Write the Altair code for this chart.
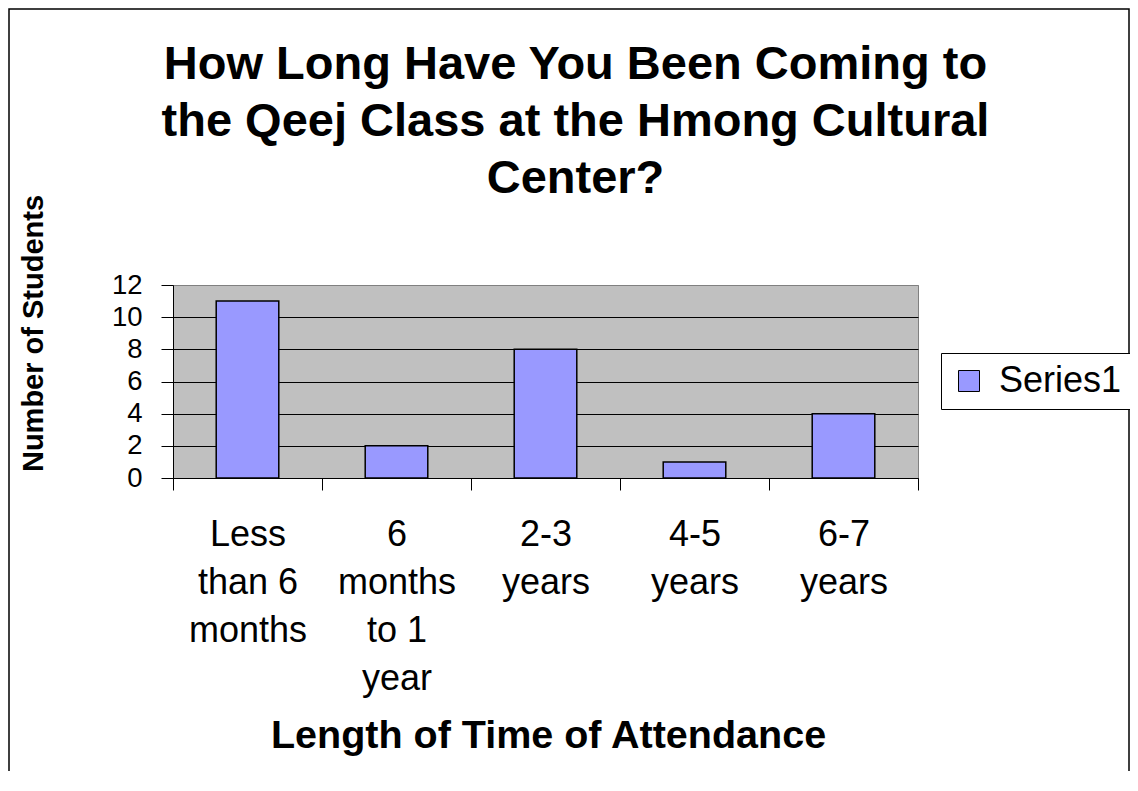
import altair as alt
import pandas as pd

categories = ["Less\nthan 6\nmonths", "6\nmonths\nto 1\nyear", "2-3\nyears", "4-5\nyears", "6-7\nyears"]
values = [11, 2, 8, 1, 4]
series = ["Series1"] * 5

FONT = "Liberation Sans, Arial, sans-serif"

df = pd.DataFrame({"cat": categories, "val": values, "series": series})

bars = alt.Chart(df).mark_bar(
    width=alt.RelativeBandSize(0.42), stroke="black", strokeWidth=1.5
).encode(
    x=alt.X("cat:N", sort=categories,
            scale=alt.Scale(paddingInner=0, paddingOuter=0),
            axis=alt.Axis(title="Length of Time of Attendance", labelAngle=0,
                          labelExpr="split(datum.label, '\\n')",
                          labelFontSize=36, labelFont=FONT, labelColor="black",
                          labelLineHeight=48, labelBaseline="top", labelPadding=27,
                          tickSize=12, tickColor="black", tickBand="extent",
                          domainColor="black", grid=False,
                          titleFont=FONT, titleFontSize=39.5, titleFontWeight="bold",
                          titleColor="black", titleBaseline="alphabetic",
                          titleY=269, titleX=375)),
    y=alt.Y("val:Q", scale=alt.Scale(domain=[0, 12], nice=False),
            axis=alt.Axis(title="Number of Students", values=[0, 2, 4, 6, 8, 10, 12],
                          labelOverlap=False,
                          labelFontSize=27.5, labelFont=FONT, labelColor="black",
                          labelPadding=19, tickSize=12, tickColor="black",
                          domainColor="black",
                          gridColor=alt.condition("datum.value == 12", alt.value("#808080"), alt.value("black")),
                          gridWidth=1,
                          titleFont=FONT, titleFontSize=29, titleFontWeight="bold",
                          titleColor="black", titleX=-140, titleY=48,
                          titleAngle=270, titleBaseline="middle", titleAlign="center")),
    color=alt.Color("series:N", scale=alt.Scale(range=["#9999FF"]),
                    legend=alt.Legend(title=None, orient="none", legendX=768, legendY=68,
                                      symbolType="square", symbolSize=441,
                                      symbolStrokeColor="black", symbolStrokeWidth=1,
                                      symbolFillColor="#9999FF",
                                      labelFont=FONT, labelFontSize=36, labelColor="black",
                                      labelOffset=12, padding=10,
                                      strokeColor="black", fillColor="white")),
)

frame = alt.Chart(pd.DataFrame({"f": [0]})).mark_rect(
    fillOpacity=0, stroke="black", strokeWidth=1.5
).encode(
    x=alt.value(-164), x2=alt.value(956), y=alt.value(-276), y2=alt.value(600)
)

chart = alt.layer(frame, bars).properties(
    width=745, height=193,
    title=alt.TitleParams(
        text=["How Long Have You Been Coming to", "the Qeej Class at the Hmong Cultural", "Center?"],
        font=FONT, fontSize=47, fontWeight="bold", color="black",
        lineHeight=57, anchor="middle", dx=30, dy=195, offset=0),
    autosize=alt.AutoSizeParams(type="none"),
    padding={"left": 165, "top": 277, "right": 212, "bottom": 293},
).configure_view(
    fill="#C0C0C0", stroke="#808080", strokeWidth=1
)

chart.save("out.html", embed_options={"renderer": "svg", "actions": False})
